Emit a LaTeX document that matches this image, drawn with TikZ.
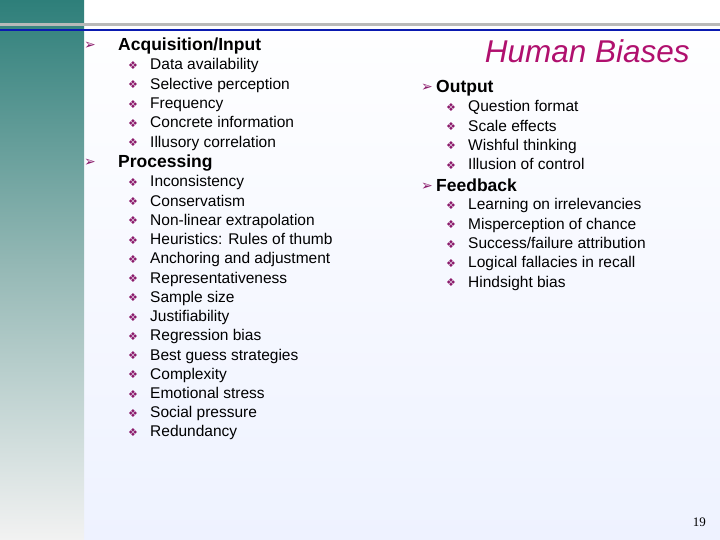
\documentclass[tikz,border=0pt]{standalone}
\usepackage{fontspec}
\setmainfont{Liberation Sans}
\newfontfamily\djv{DejaVu Sans}
\newfontfamily\serifnum{Liberation Serif}
\definecolor{teal1}{HTML}{2E7F7A}
\definecolor{barend}{HTML}{F2F2F2}
\definecolor{bulpurple}{HTML}{8B1A6B}
\definecolor{titlec}{HTML}{B0106E}
\definecolor{lineblue}{HTML}{0A1AB0}
\begin{document}
\begin{tikzpicture}[x=1pt,y=-1pt,
  head/.style={anchor=base west,inner sep=0pt,yshift=-6pt,font=\fontsize{17.5}{17.5}\selectfont\bfseries},
  item/.style={anchor=base west,inner sep=0pt,yshift=-5pt,font=\fontsize{15.5}{15.5}\selectfont},
  arr/.style={anchor=base west,inner sep=0pt,yshift=-5pt,text=bulpurple,font=\djv\fontsize{14}{14}\selectfont},
  dia/.style={anchor=base west,inner sep=0pt,yshift=-4.5pt,text=bulpurple,font=\djv\fontsize{11}{11}\selectfont}]
\useasboundingbox (0,0) rectangle (720,540);
\shade[top color=white,bottom color={rgb,255:red,238;green,242;blue,255}] (0,0) rectangle (720,540);
\shade[top color=teal1,bottom color=barend,middle color={rgb,255:red,150;green,185;blue,182}] (0,0) rectangle (84,540);
\fill[gray!55] (0,23.5) rectangle (720,26.5);
\fill[lineblue] (0,29) rectangle (720,31.5);
\node[anchor=base east,inner sep=0pt,yshift=-11pt,text=titlec,font=\fontsize{31.5}{31.5}\selectfont\itshape] (title) at (690,52) {Human Biases};
% left column
\node[arr] (a1) at (84,45) {➢};
\node[head] (h1) at (118,45) {Acquisition/Input};
\foreach \t [count=\i] in {Data availability,Selective perception,Frequency,Concrete information,Illusory correlation}{
  \node[dia] (d1\i) at (128,{65+(\i-1)*19.3}) {❖};
  \node[item] (t1\i) at (150,{65+(\i-1)*19.3}) {\t};
}
\node[arr] (a2) at (84,162) {➢};
\node[head] (h2) at (118,162) {Processing};
\foreach \t [count=\i] in {Inconsistency,Conservatism,Non-linear extrapolation,Heuristics: Rules of thumb,Anchoring and adjustment,Representativeness,Sample size,Justifiability,Regression bias,Best guess strategies,Complexity,Emotional stress,Social pressure,Redundancy}{
  \node[dia] (d2\i) at (128,{182+(\i-1)*19.23}) {❖};
  \node[item] (t2\i) at (150,{182+(\i-1)*19.23}) {\t};
}
% right column
\node[arr] (a3) at (421,87) {➢};
\node[head] (h3) at (436,87) {Output};
\foreach \t [count=\i] in {Question format,Scale effects,Wishful thinking,Illusion of control}{
  \node[dia] (d3\i) at (446,{107+(\i-1)*19.2}) {❖};
  \node[item] (t3\i) at (468,{107+(\i-1)*19.2}) {\t};
}
\node[arr] (a4) at (421,186) {➢};
\node[head] (h4) at (436,186) {Feedback};
\foreach \t [count=\i] in {Learning on irrelevancies,Misperception of chance,Success/failure attribution,Logical fallacies in recall,Hindsight bias}{
  \node[dia] (d4\i) at (446,{205+(\i-1)*19.3}) {❖};
  \node[item] (t4\i) at (468,{205+(\i-1)*19.3}) {\t};
}
\node[anchor=base east,inner sep=0pt,yshift=-4pt,font=\serifnum\fontsize{13}{13}\selectfont] (pg) at (706,522) {19};
\end{tikzpicture}
\end{document}
